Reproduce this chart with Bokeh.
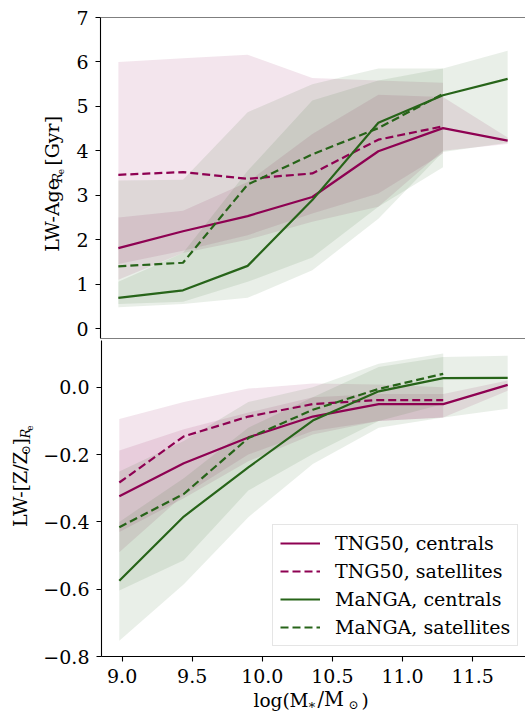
from math import pi
from bokeh.plotting import figure
from bokeh.models import (Span, Legend, LegendItem, FixedTicker,
                          CustomJSTickFormatter, Range1d)
from bokeh.layouts import column, row
from bokeh.core.properties import value
from bokeh.embed import file_html
from bokeh.resources import INLINE

# ---------------- data ----------------
mass_bins = [8.98, 9.44, 9.90, 10.36, 10.83, 11.29, 11.75]

# LW age within Re [Gyr]
tng_cen_age = [1.81, 2.19, 2.53, 2.96, 3.99, 4.51, 4.23]
tng_cen_age_lo = [1.10, 1.70, 2.00, 2.40, 2.74, 4.00, 4.15]
tng_cen_age_hi = [2.50, 2.65, 3.30, 4.38, 5.26, 5.21, 4.30]

tng_sat_age = [3.46, 3.52, 3.37, 3.49, 4.25, 4.55]
tng_sat_age_lo = [1.45, 1.75, 2.10, 2.59, 3.04, 3.94]
tng_sat_age_hi = [6.00, 6.08, 6.16, 5.64, 5.58, 5.53]

manga_cen_age = [0.69, 0.86, 1.41, 2.89, 4.63, 5.25, 5.62]
manga_cen_age_lo = [0.48, 0.55, 0.69, 1.31, 2.47, 3.97, 4.18]
manga_cen_age_hi = [1.05, 1.70, 3.55, 5.13, 5.58, 5.85, 6.25]

manga_sat_age = [1.40, 1.48, 3.24, 3.92, 4.51, 5.28]
manga_sat_age_lo = [0.55, 0.60, 1.05, 1.60, 2.74, 3.63]
manga_sat_age_hi = [3.33, 3.35, 4.87, 5.50, 5.85, 5.85]

# LW metallicity within Re
tng_cen_z = [-0.324, -0.226, -0.149, -0.087, -0.050, -0.050, 0.007]
tng_cen_z_lo = [-0.43, -0.33, -0.22, -0.14, -0.10, -0.09, -0.01]
tng_cen_z_hi = [-0.188, -0.125, -0.075, -0.03, -0.02, -0.02, 0.02]

tng_sat_z = [-0.283, -0.146, -0.087, -0.050, -0.038, -0.038]
tng_sat_z_lo = [-0.49, -0.32, -0.20, -0.13, -0.10, -0.09]
tng_sat_z_hi = [-0.094, -0.044, -0.004, 0.011, 0.008, 0.0]

manga_cen_z = [-0.575, -0.384, -0.238, -0.099, -0.012, 0.027, 0.028]
manga_cen_z_lo = [-0.753, -0.585, -0.386, -0.228, -0.12, -0.09, -0.064]
manga_cen_z_hi = [-0.40, -0.27, -0.12, -0.03, 0.06, 0.09, 0.094]

manga_sat_z = [-0.416, -0.317, -0.151, -0.067, -0.005, 0.040]
manga_sat_z_lo = [-0.604, -0.514, -0.307, -0.198, -0.10, -0.05]
manga_sat_z_hi = [-0.25, -0.16, -0.044, 0.0, 0.07, 0.10]

age_ticks = [0, 1, 2, 3, 4, 5, 6, 7]
z_ticks = [-0.8, -0.6, -0.4, -0.2, 0.0]
mass_ticks = [9.0, 9.5, 10.0, 10.5, 11.0, 11.5]

legend_labels = ["TNG50, centrals", "TNG50, satellites",
                 "MaNGA, centrals", "MaNGA, satellites"]

# ---------------- style ----------------
MAG = "#8e0152"
GRN = "#276419"
FONT = "DejaVu Serif"
FS = "19px"
LW = 2.2
DASH = "8 4"
XR = (8.853, 11.877)
MID = 0.346  # baseline-to-middle distance, in em


def style_axis(ax):
    ax.axis_line_color = "black"
    ax.axis_line_width = 1.1
    ax.major_tick_line_color = "black"
    ax.major_tick_line_width = 1.1
    ax.major_tick_out = 5
    ax.major_tick_in = 0
    ax.minor_tick_line_color = None
    ax.major_label_text_font = FONT
    ax.major_label_text_font_size = FS
    ax.major_label_text_color = "black"


def helper(w, h, **kw):
    f = figure(width=w, height=h, x_range=Range1d(0, w), y_range=Range1d(0, h),
               output_backend="svg", toolbar_location=None,
               x_axis_location=None, y_axis_location=None, min_border=0, **kw)
    f.grid.visible = False
    f.outline_line_color = None
    f.background_fill_alpha = 0
    f.border_fill_alpha = 0
    return f


def vtxt(fig, s, base_x, y, size, style="normal"):
    """vertical text (reading upwards) whose baseline lies at x = base_x"""
    fig.text(x=[base_x - MID * size], y=[y], text=[s], angle=pi / 2,
             text_font=value(FONT), text_font_size=value(f"{size}px"),
             text_font_style=style, text_align="left",
             text_baseline="middle", text_color="black")


def htxt(fig, s, x, base_y, size, style="normal"):
    """horizontal text whose baseline lies at y = base_y"""
    fig.text(x=[x], y=[base_y + MID * size], text=[s], angle=0.0,
             text_font=value(FONT), text_font_size=value(f"{size}px"),
             text_font_style=style, text_align="left",
             text_baseline="middle", text_color="black")


# ---------------- top panel ----------------
p1 = figure(width=455, height=340, output_backend="svg", toolbar_location=None,
            x_range=Range1d(*XR), y_range=Range1d(-0.225, 7.0),
            x_axis_location=None, min_border_left=30, min_border_right=0,
            min_border_top=17, min_border_bottom=2)
p1.grid.visible = False
p1.outline_line_color = None
p1.background_fill_color = "white"
p1.border_fill_color = "white"
style_axis(p1.yaxis[0])
p1.yaxis[0].ticker = FixedTicker(ticks=age_ticks)
p1.yaxis[0].major_label_standoff = 7

for n, lo, hi, col in [(7, tng_cen_age_lo, tng_cen_age_hi, MAG),
                       (6, tng_sat_age_lo, tng_sat_age_hi, MAG),
                       (7, manga_cen_age_lo, manga_cen_age_hi, GRN),
                       (6, manga_sat_age_lo, manga_sat_age_hi, GRN)]:
    p1.varea(x=mass_bins[:n], y1=lo, y2=hi, fill_color=col, fill_alpha=0.1)
for n, y, col, dash in [(7, tng_cen_age, MAG, "solid"),
                        (6, tng_sat_age, MAG, DASH),
                        (7, manga_cen_age, GRN, "solid"),
                        (6, manga_sat_age, GRN, DASH)]:
    p1.line(x=mass_bins[:n], y=y, line_color=col, line_width=LW, line_dash=dash)

p1.add_layout(Span(location=7.0, dimension="width", line_color="black",
                   line_width=1.1))
p1.add_layout(Span(location=-0.225, dimension="width", line_color="black",
                   line_width=1.1))

# y label of top panel: LW-Age_{R_e} [Gyr]   (page y = 340 - data y)
ylab1 = helper(70, 340)
vtxt(ylab1, "LW-Age", 58, 92, 19)
vtxt(ylab1, "R", 61, 165, 13, style="italic")
vtxt(ylab1, "e", 63.5, 174, 9)
vtxt(ylab1, "[Gyr]", 58, 183, 19)

# ---------------- bottom panel ----------------
p2 = figure(width=485, height=361, output_backend="svg", toolbar_location=None,
            x_range=Range1d(*XR), y_range=Range1d(-0.8, 0.139),
            min_border_left=60, min_border_right=0, min_border_top=0,
            min_border_bottom=45)
p2.grid.visible = False
p2.outline_line_color = None
p2.background_fill_color = "white"
p2.border_fill_color = "white"
style_axis(p2.yaxis[0])
style_axis(p2.xaxis[0])
p2.yaxis[0].ticker = FixedTicker(ticks=z_ticks)
p2.yaxis[0].formatter = CustomJSTickFormatter(
    code="return tick.toFixed(1).replace('-', '\u2212');")
p2.yaxis[0].major_label_standoff = 7
p2.xaxis[0].ticker = FixedTicker(ticks=mass_ticks)
p2.xaxis[0].formatter = CustomJSTickFormatter(code="return tick.toFixed(1);")
p2.xaxis[0].major_label_standoff = 7

for n, lo, hi, col in [(7, tng_cen_z_lo, tng_cen_z_hi, MAG),
                       (6, tng_sat_z_lo, tng_sat_z_hi, MAG),
                       (7, manga_cen_z_lo, manga_cen_z_hi, GRN),
                       (6, manga_sat_z_lo, manga_sat_z_hi, GRN)]:
    p2.varea(x=mass_bins[:n], y1=lo, y2=hi, fill_color=col, fill_alpha=0.1)
rends = []
for n, y, col, dash in [(7, tng_cen_z, MAG, "solid"),
                        (6, tng_sat_z, MAG, DASH),
                        (7, manga_cen_z, GRN, "solid"),
                        (6, manga_sat_z, GRN, DASH)]:
    rends.append(p2.line(x=mass_bins[:n], y=y, line_color=col,
                         line_width=LW, line_dash=dash))

legend = Legend(items=[LegendItem(label=t, renderers=[r])
                       for t, r in zip(legend_labels, rends)],
                location=(171, 10), orientation="vertical",
                label_text_font=FONT, label_text_font_size=FS,
                label_text_color="black", glyph_width=40, glyph_height=20,
                label_height=20, label_standoff=15, spacing=6, padding=7,
                margin=0, border_line_color="#cccccc", border_line_width=1,
                background_fill_color="white", background_fill_alpha=0.8)
p2.add_layout(legend)

# y label of bottom panel: LW-[Z/Z_sun]_{R_e}  (page y = 701 - data y)
ylab2 = helper(40, 361)
vtxt(ylab2, "LW-[Z/Z", 26, 148, 19)
vtxt(ylab2, "\u2299", 29.5, 230, 12)
vtxt(ylab2, "]", 26, 241, 19)
vtxt(ylab2, "R", 29.5, 249, 13, style="italic")
vtxt(ylab2, "e", 32, 258, 9)

# x label: log(M_*/M_sun); canvas spans page y 677..713 (page y = 713 - data y)
xlab = helper(525, 36, margin=(-24, 0, 0, 0))
htxt(xlab, "log(M", 253, 7, 18.5)
htxt(xlab, "\u2217", 307, 4.5, 13)
htxt(xlab, "/M", 317, 7, 19.5)
htxt(xlab, "\u2299", 348, 4, 12)
htxt(xlab, ")", 361, 7, 18.5)

layout = column(row(ylab1, p1, spacing=0), row(ylab2, p2, spacing=0), xlab,
                spacing=0)
open("out.html", "w", encoding="utf-8").write(file_html(layout, INLINE))
